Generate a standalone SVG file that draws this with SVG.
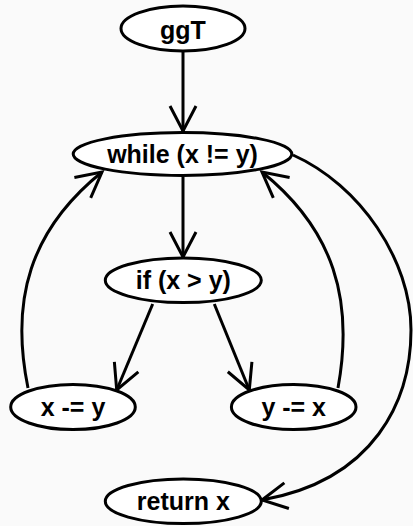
<svg xmlns="http://www.w3.org/2000/svg" width="413" height="526" viewBox="0 0 413 526">
<defs>
<marker id="arr" markerUnits="userSpaceOnUse" markerWidth="40" markerHeight="40" viewBox="-30 -20 40 40" refX="0" refY="0" orient="auto" overflow="visible">
<path d="M-25,-13 L0,0 L-25,13" fill="none" stroke="#000" stroke-width="3"/>
</marker>
</defs>
<style>
.node ellipse{fill:#fff;stroke:#000;stroke-width:3}
.node text{font-family:"Liberation Sans",Arial,sans-serif;font-weight:bold;font-size:25px;text-anchor:middle;fill:#000}
.edges path{fill:none;stroke:#000;stroke-width:3;marker-end:url(#arr)}
</style>
<rect width="413" height="526" fill="#fafafa"/>
<g class="edges">
<path d="M183,52 L183,131"/>
<path d="M183,177 L183,257"/>
<path d="M152.7,304 L116.7,390"/>
<path d="M214.3,304 L249.3,390"/>
<path d="M28,388 C10,300 30,230 102,172"/>
<path d="M338,388 C354,300 334,230 262,172"/>
<path d="M293,155 C360,185 411,260 411,330 C411,400 375,480 262,500"/>
</g>
<g id="ggT" class="node"><ellipse cx="183" cy="28.5" rx="62" ry="22.5"/><text x="183" y="38.5">ggT</text></g>
<g id="while" class="node"><ellipse cx="182.5" cy="154" rx="109.3" ry="21.4"/><text x="182.5" y="163">while (x != y)</text></g>
<g id="if" class="node"><ellipse cx="183.3" cy="280.3" rx="78" ry="22.3"/><text x="183.3" y="289">if (x &gt; y)</text></g>
<g id="xmy" class="node"><ellipse cx="73" cy="407" rx="62.3" ry="22.6"/><text x="73" y="416">x -= y</text></g>
<g id="ymx" class="node"><ellipse cx="293.7" cy="407" rx="62.3" ry="22.6"/><text x="293.7" y="416">y -= x</text></g>
<g id="ret" class="node"><ellipse cx="183.3" cy="501.3" rx="78" ry="22.3"/><text x="183.3" y="510">return x</text></g>
</svg>
